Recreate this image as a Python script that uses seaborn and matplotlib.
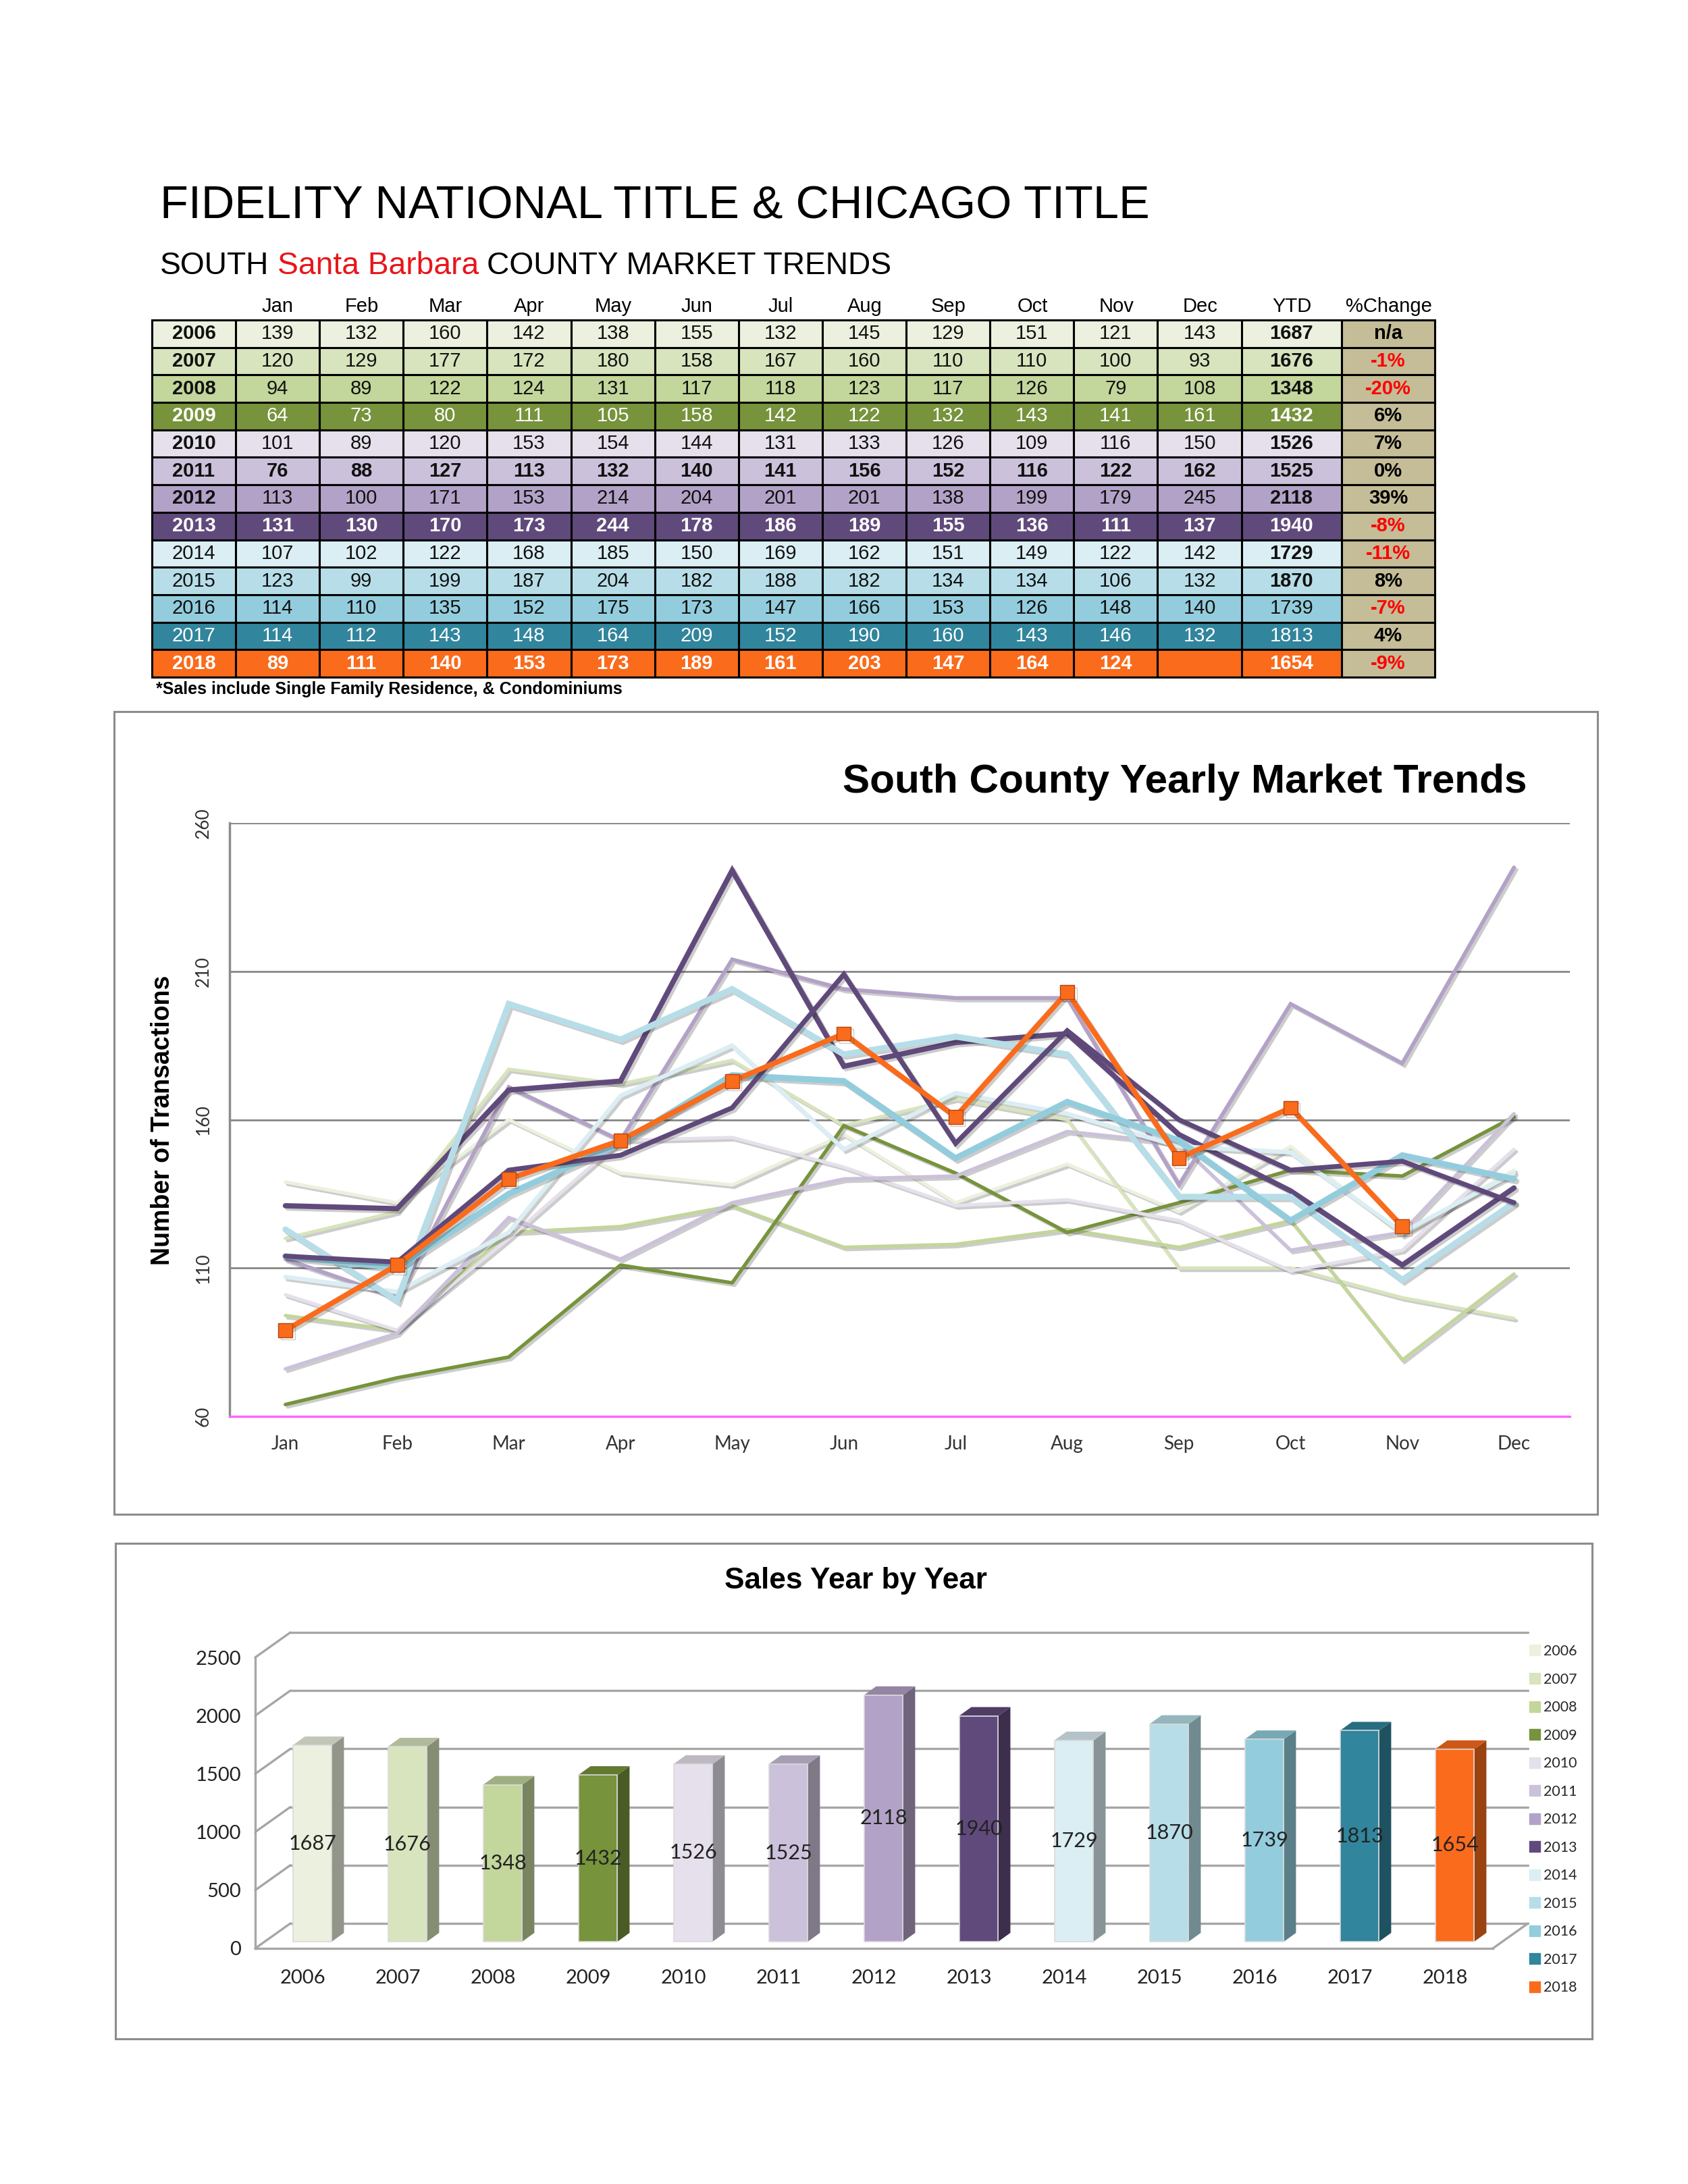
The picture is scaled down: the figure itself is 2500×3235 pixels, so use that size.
import numpy as np
import pandas as pd
import matplotlib
matplotlib.use("Agg")
import matplotlib.pyplot as plt
import seaborn as sns
from matplotlib import font_manager
from matplotlib.patches import Rectangle, Polygon
from matplotlib.lines import Line2D
import matplotlib.patheffects as pe
from matplotlib.transforms import Affine2D, IdentityTransform
import matplotlib.colors as mcolors

# ---------------- data ----------------
months = ["Jan", "Feb", "Mar", "Apr", "May", "Jun", "Jul", "Aug", "Sep", "Oct", "Nov", "Dec"]
years = [2006, 2007, 2008, 2009, 2010, 2011, 2012, 2013, 2014, 2015, 2016, 2017, 2018]
sales_2006 = [139, 132, 160, 142, 138, 155, 132, 145, 129, 151, 121, 143]
sales_2007 = [120, 129, 177, 172, 180, 158, 167, 160, 110, 110, 100, 93]
sales_2008 = [94, 89, 122, 124, 131, 117, 118, 123, 117, 126, 79, 108]
sales_2009 = [64, 73, 80, 111, 105, 158, 142, 122, 132, 143, 141, 161]
sales_2010 = [101, 89, 120, 153, 154, 144, 131, 133, 126, 109, 116, 150]
sales_2011 = [76, 88, 127, 113, 132, 140, 141, 156, 152, 116, 122, 162]
sales_2012 = [113, 100, 171, 153, 214, 204, 201, 201, 138, 199, 179, 245]
sales_2013 = [131, 130, 170, 173, 244, 178, 186, 189, 155, 136, 111, 137]
sales_2014 = [107, 102, 122, 168, 185, 150, 169, 162, 151, 149, 122, 142]
sales_2015 = [123, 99, 199, 187, 204, 182, 188, 182, 134, 134, 106, 132]
sales_2016 = [114, 110, 135, 152, 175, 173, 147, 166, 153, 126, 148, 140]
sales_2017 = [114, 112, 143, 148, 164, 209, 152, 190, 160, 143, 146, 132]
sales_2018 = [89, 111, 140, 153, 173, 189, 161, 203, 147, 164, 124, None]
monthly = [sales_2006, sales_2007, sales_2008, sales_2009, sales_2010, sales_2011, sales_2012,
           sales_2013, sales_2014, sales_2015, sales_2016, sales_2017, sales_2018]
ytd = [1687, 1676, 1348, 1432, 1526, 1525, 2118, 1940, 1729, 1870, 1739, 1813, 1654]
pct_change = ["n/a", "-1%", "-20%", "6%", "7%", "0%", "39%", "-8%", "-11%", "8%", "-7%", "4%", "-9%"]
table_header = [""] + months + ["YTD", "%Change"]
bar_ticks = [0, 500, 1000, 1500, 2000, 2500]
line_ticks = [60, 110, 160, 210, 260]

# ---------------- styles ----------------
row_colors = ["#EBF1DE", "#D7E4BD", "#C3D69B", "#77933C", "#E6E0EC", "#CCC1DA", "#B3A2C7",
              "#604A7B", "#DBEEF4", "#B7DEE8", "#93CDDD", "#31859C", "#FA6B1C"]
pct_bg = "#C4BD97"
white_rows = {2009, 2013, 2017, 2018}
bold_rows = {2011, 2013, 2018}
light_year = {2014, 2015, 2016, 2017}
light_ytd = {2016, 2017}
line_colors = dict(zip(years, row_colors))
line_colors[2017] = "#5F497A"
line_widths = {2006: 3.6, 2007: 3.6, 2008: 3.6, 2009: 3.8, 2010: 3.6, 2011: 3.8, 2012: 4.2,
               2013: 5.6, 2014: 4.6, 2015: 6.5, 2016: 6.5, 2017: 5.2, 2018: 5.6}

sns.set_theme(style="white")
names = {f.name for f in font_manager.fontManager.ttflist}
NARROW = "Liberation Sans Narrow" if "Liberation Sans Narrow" in names else "Liberation Sans"
BASE = "Lato" if "Lato" in names else "DejaVu Sans"
plt.rcParams["font.family"] = [BASE, "DejaVu Sans"]

W, H = 2500, 3235
fig = plt.figure(figsize=(W / 100, H / 100), dpi=100)
fig.patch.set_facecolor("white")
renderer = fig.canvas.get_renderer()


def ax_px(l, t, r, b):
    return fig.add_axes([l / W, 1 - b / H, (r - l) / W, (b - t) / H])


def ftext(x, y, s, **kw):
    return fig.text(x / W, 1 - y / H, s, **kw)


def fit_width(t, width):
    bb = t.get_window_extent(renderer)
    t.set_fontsize(t.get_fontsize() * width / bb.width)
    return t


# ---------------- titles ----------------
t = ftext(237, 305, "FIDELITY NATIONAL TITLE & CHICAGO TITLE", fontsize=55, family=[NARROW, "DejaVu Sans"],
          ha="left", va="center", color="black")
fit_width(t, 1465)

parts = [("SOUTH", "black"), ("Santa Barbara", "#E8161B"), ("COUNTY MARKET TRENDS", "black")]
fs_sub = 36
tmp = [ftext(0, 0, p, fontsize=fs_sub, family=[NARROW, "DejaVu Sans"]) for p, _ in parts]
widths = [tt.get_window_extent(renderer).width for tt in tmp]
for tt in tmp:
    tt.remove()
gap = 0.27 * fs_sub * 100 / 72
scale = 1083 / (sum(widths) + 2 * gap)
fs_sub *= scale
gap *= scale
xcur = 237
for (p, col), w in zip(parts, widths):
    ftext(xcur, 394, p, fontsize=fs_sub, family=[NARROW, "DejaVu Sans"], color=col, ha="left", va="center")
    xcur += w * scale + gap

# ---------------- table ----------------
col_px = [124] + [124.2] * 12 + [148.5, 138]
T_L, T_T, T_R, T_B = 225, 474, 2125, 1003
axt = ax_px(T_L, T_T, T_R, T_B)
axt.axis("off")
cell_text, cell_cols = [], []
for i, y in enumerate(years):
    row = [str(y)] + ["" if v is None else str(v) for v in monthly[i]] + [str(ytd[i]), pct_change[i]]
    cell_text.append(row)
    cell_cols.append([row_colors[i]] * 14 + [pct_bg])
tot = sum(col_px)
tbl = axt.table(cellText=cell_text, cellColours=cell_cols, colWidths=[c / tot for c in col_px],
                bbox=[0, 0, 1, 1], cellLoc="center")
tbl.auto_set_font_size(False)
tbl.set_fontsize(20)
for (r, c), cell in tbl.get_celld().items():
    y = years[r]
    cell.set_edgecolor("black")
    cell.set_linewidth(2.2)
    tx = cell.get_text()
    tx.set_fontfamily([NARROW, "DejaVu Sans"])
    tx.set_fontsize(21)
    if c == 14:
        tx.set_color("#FF0000" if pct_change[r].startswith("-") else "black")
        tx.set_fontweight("bold")
    else:
        tx.set_color("white" if y in white_rows else "#111111")
        bold = y in bold_rows
        if c == 0 and y not in light_year:
            bold = True
        if c == 13 and y not in light_ytd:
            bold = True
        tx.set_fontweight("bold" if bold else "normal")

xc = T_L
for lbl, w in zip(table_header, col_px):
    ftext(xc + w / 2, 454, lbl, fontsize=21, family=[NARROW, "DejaVu Sans"], ha="center", va="center", color="black")
    xc += w

ftext(231, 1021, "*Sales include Single Family Residence, & Condominiums", fontsize=18,
      family=[NARROW, "DejaVu Sans"], fontweight="bold", ha="left", va="center", color="black")

# ---------------- panels ----------------
for (l, tp, r, b) in [(169, 1054, 2366, 2243), (171, 2286, 2358, 3020)]:
    fig.add_artist(Rectangle((l / W, 1 - b / H), (r - l) / W, (b - tp) / H, transform=fig.transFigure,
                             fill=False, edgecolor="#8C8C8C", lw=2.2))

# ---------------- line chart ----------------
long = pd.DataFrame({
    "year": np.repeat(years, 12),
    "month": months * len(years),
    "sales": np.array([np.nan if v is None else v for row in monthly for v in row], dtype=float),
})
axl = ax_px(340, 1219, 2325, 2098)
axl.set_facecolor("white")
for y in years:
    sub = long[long["year"] == y]
    kw = dict(color=line_colors[y], linewidth=line_widths[y], sort=False, errorbar=None, legend=False,
              solid_joinstyle="miter",
              path_effects=[pe.SimpleLineShadow(offset=(2.5, -2.5), alpha=0.22), pe.Normal()])
    if y == 2018:
        kw.update(marker="s", markersize=15, markerfacecolor=line_colors[y],
                  markeredgecolor="#B5460F", markeredgewidth=1.0)
    sns.lineplot(data=sub, x="month", y="sales", ax=axl, **kw)
axl.set_xlim(-0.5, 11.5)
axl.set_ylim(60, 260)
axl.set_yticks(line_ticks)
axl.set_xlabel("")
axl.set_ylabel("")
axl.grid(False)
for v in line_ticks[1:]:
    axl.axhline(v, color="#868686", lw=2, zorder=0.5)
axl.axhline(60, color="#FF66FF", lw=2.5, zorder=5, clip_on=False)
for s in ["top", "right", "bottom"]:
    axl.spines[s].set_visible(False)
axl.spines["left"].set_color("#8C8C8C")
axl.spines["left"].set_linewidth(2.5)
axl.tick_params(axis="y", labelrotation=90, length=0, pad=19, labelsize=19, labelcolor="#333333")
for lb in axl.get_yticklabels():
    lb.set_va("center")
axl.tick_params(axis="x", length=0, pad=20, labelsize=20, labelcolor="#333333")
ftext(241, 1659, "Number of Transactions", rotation=90, fontsize=27, fontweight="bold",
      family=[NARROW, "DejaVu Sans"], ha="center", va="center", color="black")
t = ftext(2261, 1159, "South County Yearly Market Trends", fontsize=50, fontweight="bold",
          family=[NARROW, "DejaVu Sans"], ha="right", va="center", color="black")
fit_width(t, 1013)

# ---------------- bar chart ----------------
year_lbls = [str(y) for y in years]
axb = ax_px(378, 2455, 2211, 2886)
sns.barplot(x=year_lbls, y=ytd, hue=year_lbls, palette=dict(zip(year_lbls, row_colors)), width=0.41,
            saturation=1, legend=False, ax=axb, edgecolor="#DADADA", linewidth=1.2, zorder=3)
axb.set_xlim(-0.5, 12.5)
axb.set_ylim(0, 2500)
axb.set_autoscale_on(False)
axb.set_facecolor("none")
axb.set_xlabel("")
axb.set_ylabel("")
axb.grid(False)
grid_c = "#A6A6A6"
DX, DY = 52, 37
BX, BY = 14, 10
SX, SY = 18, 13
back = axb.transData + Affine2D().translate(DX, DY)
shift = axb.transData + Affine2D().translate(BX, BY)
for v in bar_ticks:
    axb.plot([-0.5, 12.5], [v, v], transform=back, color=grid_c, lw=2.4, zorder=1, clip_on=False)
    p = axb.transData.transform((-0.5, v))
    axb.add_line(Line2D([p[0], p[0] + DX], [p[1], p[1] + DY], transform=IdentityTransform(),
                        color=grid_c, lw=2.4, zorder=1, clip_on=False))
p = axb.transData.transform((12.5, 0))
axb.add_line(Line2D([p[0], p[0] + DX], [p[1], p[1] + DY], transform=IdentityTransform(),
                    color=grid_c, lw=2.4, zorder=1, clip_on=False))

bars = sorted(list(axb.patches), key=lambda q: q.get_x())
for patch, val in zip(bars, ytd):
    patch.set_transform(shift)
    patch.set_clip_on(False)
    x0, w, h = patch.get_x(), patch.get_width(), patch.get_height()
    xl, yb = shift.transform((x0, 0))
    xr, yt = shift.transform((x0 + w, h))
    c = np.array(mcolors.to_rgb(patch.get_facecolor()))
    side = Polygon([(xr, yb), (xr + SX, yb + SY), (xr + SX, yt + SY), (xr, yt)], closed=True,
                   transform=IdentityTransform(), facecolor=c * 0.62, edgecolor="none", zorder=2.9, clip_on=False)
    top = Polygon([(xl, yt), (xr, yt), (xr + SX, yt + SY), (xl + SX, yt + SY)], closed=True,
                  transform=IdentityTransform(), facecolor=c * 0.82, edgecolor="none", zorder=2.9, clip_on=False)
    axb.add_artist(side)
    axb.add_artist(top)
    axb.text(x0 + w / 2, val / 2, str(val), transform=shift, ha="center", va="center",
             fontsize=22, color="#222222", zorder=6)

for s in ["top", "right"]:
    axb.spines[s].set_visible(False)
for s in ["left", "bottom"]:
    axb.spines[s].set_color(grid_c)
    axb.spines[s].set_linewidth(2.4)
axb.set_yticks(bar_ticks)
axb.tick_params(axis="y", length=7, width=2, color=grid_c, pad=8, labelsize=21, labelcolor="#222222")
axb.set_xticks(np.arange(-0.5, 13, 1), minor=True)
axb.tick_params(axis="x", which="minor", length=9, width=2, color=grid_c, direction="out")
axb.tick_params(axis="x", which="major", length=0, pad=22, labelsize=21, labelcolor="#222222")
t = ftext(1267, 2341, "Sales Year by Year", fontsize=40, fontweight="bold",
          family=[NARROW, "DejaVu Sans"], ha="center", va="center", color="black")
fit_width(t, 388)

handles = [Line2D([], [], marker="s", ls="", color=c, markersize=12) for c in row_colors]
fig.legend(handles, year_lbls, loc="upper left", bbox_to_anchor=(2262 / W, 1 - 2436 / H), frameon=False,
           fontsize=15.5, labelspacing=1.0, handletextpad=0.1, borderaxespad=0, borderpad=0,
           handlelength=1.0)

fig.savefig("out.png", dpi=100, facecolor="white")
